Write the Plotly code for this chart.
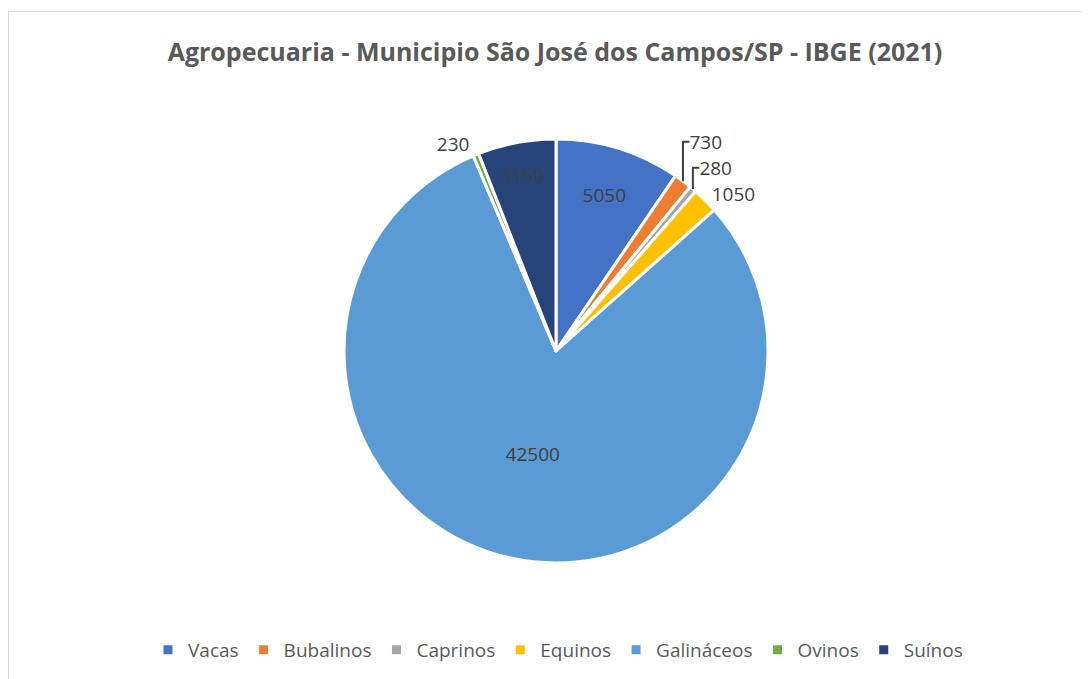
import plotly.graph_objects as go

categories = ["Vacas", "Bubalinos", "Caprinos", "Equinos", "Galináceos", "Ovinos", "Suínos"]
values = [5050, 730, 280, 1050, 42500, 230, 3150]
colors = ["#4472C4", "#ED7D31", "#A5A5A5", "#FFC000", "#5B9BD5", "#70AD47", "#264478"]
text_positions = ["inside", "outside", "outside", "outside", "inside", "outside", "inside"]
title_text = "Agropecuaria - Municipio São José dos Campos/SP - IBGE (2021)"

# page body has an 8px margin, so the figure is drawn from (8, 8)
OFF = 8
W, H = 1089 - OFF, 679 - OFF
cx, cy, r = 556 - OFF, 351 - OFF, 212

fig = go.Figure(go.Pie(
    labels=categories,
    values=values,
    sort=False,
    direction="clockwise",
    rotation=0,
    marker=dict(colors=colors, line=dict(color="white", width=3)),
    texttemplate="%{value:d}",
    textposition=text_positions,
    insidetextorientation="horizontal",
    textfont=dict(family="Open Sans", size=19, color="#404040"),
    hoverinfo="label+value",
    domain=dict(x=[(cx - r) / W, (cx + r) / W], y=[(H - cy - r) / H, (H - cy + r) / H]),
    automargin=False,
))

fig.update_layout(
    width=W, height=H,
    margin=dict(l=0, r=0, t=0, b=0),
    paper_bgcolor="white",
    plot_bgcolor="white",
    title=dict(text="<b>" + title_text + "</b>", x=(555 - OFF) / W, xanchor="center",
               y=1 - (52 - OFF) / H, yanchor="middle",
               font=dict(family="Open Sans", size=25, color="#595959")),
    showlegend=True,
    legend=dict(orientation="h", x=(558 - OFF) / W, xanchor="center", y=1 - (650 - OFF) / H, yanchor="middle",
                font=dict(family="Open Sans", size=19, color="#595959"),
                itemwidth=30, traceorder="normal"),
    shapes=[dict(type="rect", xref="paper", yref="paper",
                 x0=0.5 / W, x1=1.02, y0=-0.02, y1=1 - 3.5 / H,
                 line=dict(color="#D9D9D9", width=1), fillcolor="rgba(0,0,0,0)", layer="below")],
)

fig.write_html("out.html")
